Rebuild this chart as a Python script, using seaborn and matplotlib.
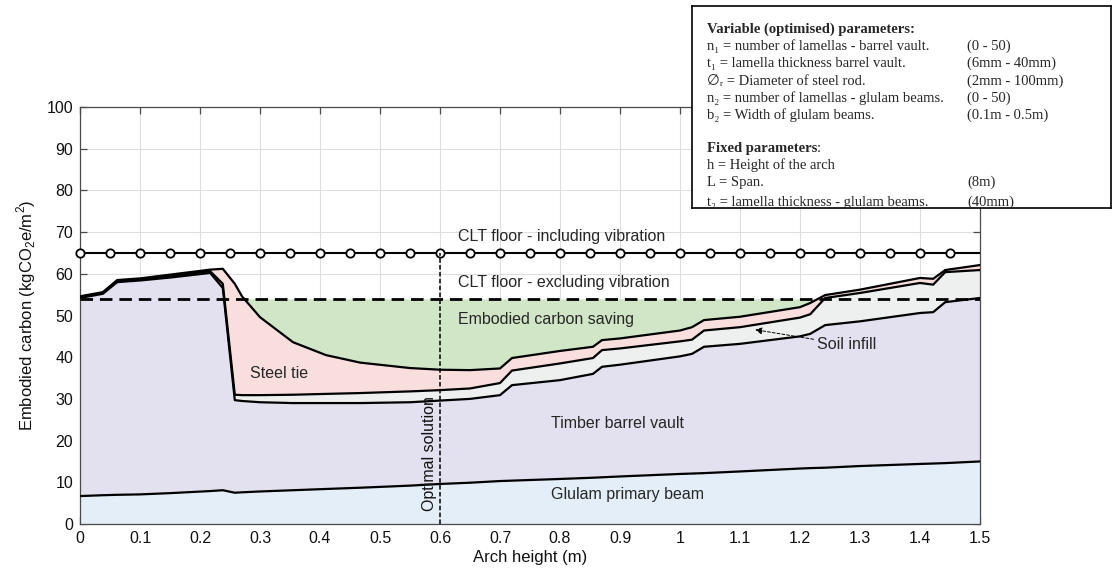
import numpy as np
import pandas as pd
import matplotlib
matplotlib.use("Agg")
import matplotlib.pyplot as plt
import seaborn as sns

# ---------------- data ----------------
arch_height = [0, 0.038, 0.062, 0.1, 0.15, 0.217, 0.238, 0.258, 0.27, 0.30,
               0.355, 0.41, 0.467, 0.55, 0.6, 0.65, 0.7, 0.72, 0.8, 0.855,
               0.87, 0.9, 1.0, 1.02, 1.04, 1.1, 1.2, 1.217, 1.242, 1.3,
               1.4, 1.422, 1.442, 1.5]
glulam_beam_top = [6.7, 6.9, 7.0, 7.1, 7.4, 7.9, 8.1, 7.5, 7.6, 7.8,
                   8.1, 8.4, 8.7, 9.2, 9.6, 9.9, 10.3, 10.4, 10.8, 11.1,
                   11.2, 11.4, 12.0, 12.1, 12.2, 12.6, 13.3, 13.4, 13.5, 13.9,
                   14.4, 14.5, 14.6, 15.0]
barrel_vault_top = [54.2, 55.2, 58.0, 58.4, 59.1, 60.2, 56.6, 29.7, 29.5, 29.2,
                    29.0, 29.0, 29.0, 29.2, 29.6, 30.0, 30.9, 33.3, 34.5, 36.0,
                    37.7, 38.2, 40.2, 40.8, 42.5, 43.2, 45.0, 45.6, 47.7, 48.6,
                    50.6, 50.8, 53.2, 54.2]
soil_infill_top = [54.5, 55.4, 58.3, 58.7, 59.5, 60.6, 57.6, 31.0, 30.9, 30.9,
                   31.0, 31.2, 31.4, 31.8, 32.1, 32.5, 33.8, 36.8, 38.5, 39.8,
                   41.7, 42.1, 43.8, 44.2, 46.4, 47.2, 49.5, 50.3, 54.2, 55.4,
                   57.8, 57.4, 60.4, 60.9]
steel_tie_top = [54.6, 55.6, 58.5, 58.9, 59.8, 61.0, 61.2, 57.6, 54.6, 49.6,
                 43.6, 40.5, 38.7, 37.4, 37.0, 36.9, 37.3, 39.8, 41.5, 42.5,
                 44.1, 44.5, 46.4, 47.2, 48.9, 49.7, 52.0, 53.0, 54.9, 56.2,
                 59.0, 58.8, 60.9, 62.1]
clt_including_vibration = 65.0
clt_excluding_vibration = 54.0
optimal_arch_height = 0.6
x_ticks = [0, 0.1, 0.2, 0.3, 0.4, 0.5, 0.6, 0.7, 0.8, 0.9, 1.0, 1.1, 1.2, 1.3, 1.4, 1.5]
x_tick_labels = ["0", "0.1", "0.2", "0.3", "0.4", "0.5", "0.6", "0.7", "0.8",
                 "0.9", "1", "1.1", "1.2", "1.3", "1.4", "1.5"]
y_ticks = [0, 10, 20, 30, 40, 50, 60, 70, 80, 90, 100]

box_rows = [
    ("Variable (optimised) parameters:", "", True),
    ("n\u2081 = number of lamellas - barrel vault.", "(0 - 50)", False),
    ("t\u2081 = lamella thickness barrel vault.", "(6mm - 40mm)", False),
    ("\u2205\u1d63 = Diameter of steel rod.", "(2mm - 100mm)", False),
    ("n\u2082 = number of lamellas - glulam beams.", "(0 - 50)", False),
    ("b\u2082 = Width of glulam beams.", "(0.1m - 0.5m)", False),
    ("Fixed parameters", "", True),
    ("h = Height of the arch", "", False),
    ("L = Span.", "(8m)", False),
    ("t\u2082 = lamella thickness - glulam beams.", "(40mm)", False),
]
box_row_baseline = [33, 50, 67, 85, 102, 119, 152, 169, 186, 206]  # pixel rows (layout)

# ---------------- figure ----------------
sns.set_theme(style="whitegrid")
plt.rcParams['font.family'] = ['Liberation Sans', 'DejaVu Sans']
plt.rcParams['mathtext.fontset'] = 'custom'
plt.rcParams['mathtext.rm'] = 'Liberation Sans'

W, H = 1113, 575
fig = plt.figure(figsize=(W / 100, H / 100), dpi=100)
fig.patch.set_facecolor('white')
ax = fig.add_axes([80 / W, 1 - 524 / H, 900 / W, 417 / H])
ax.set_facecolor('white')

df = pd.DataFrame({
    "x": arch_height,
    "glulam": glulam_beam_top,
    "vault": barrel_vault_top,
    "soil": soil_infill_top,
    "steel": steel_tie_top,
})
x = df["x"].to_numpy()

ax.fill_between(x, 0, df["glulam"], color="#e4eef8", lw=0, zorder=1)
ax.fill_between(x, df["glulam"], df["vault"], color="#e3e0ef", lw=0, zorder=1)
ax.fill_between(x, df["vault"], df["soil"], color="#eef0f0", lw=0, zorder=1)
ax.fill_between(x, df["soil"], df["steel"], color="#f9dede", lw=0, zorder=1)
ax.fill_between(x, df["steel"], clt_excluding_vibration,
                where=df["steel"] <= clt_excluding_vibration, interpolate=True,
                color="#d0e6c6", lw=0, zorder=1)

for col in ["glulam", "vault", "soil", "steel"]:
    sns.lineplot(data=df, x="x", y=col, ax=ax, color="black", lw=1.6,
                 sort=False, estimator=None, zorder=4)

# CLT floor including vibration (line with open circles)
clt_df = pd.DataFrame({"x": [0, 1.5], "y": [clt_including_vibration] * 2})
sns.lineplot(data=clt_df, x="x", y="y", ax=ax, color="black", lw=1.5, zorder=4)
marker_x = np.arange(0, 1.4501, 0.05)
ax.plot(marker_x, np.full_like(marker_x, clt_including_vibration), ls="none",
        marker="o", ms=6, mfc="white", mec="black", mew=1.3, zorder=5, clip_on=False)

# CLT floor excluding vibration (dashed)
ax.axhline(clt_excluding_vibration, color="black", lw=2.0, ls=(0, (4.5, 2.5)), zorder=5)

# optimal solution
ax.plot([optimal_arch_height, optimal_arch_height], [0, clt_including_vibration],
        color="black", lw=1.1, ls=(0, (3, 1.5)), zorder=5)
ax.text(0.583, 17, "Optimal solution", rotation=90, ha="center", va="center",
        fontsize=11.5, color="#111111", zorder=6)

# labels
fs = 11.5
ax.text(0.63, 69.0, "CLT floor - including vibration", fontsize=fs, va="center", zorder=6)
ax.text(0.63, 57.8, "CLT floor - excluding vibration", fontsize=fs, va="center", zorder=6)
ax.text(0.63, 49.0, "Embodied carbon saving", fontsize=fs, va="center", zorder=6)
ax.text(0.283, 36.2, "Steel tie", fontsize=fs, va="center", zorder=6)
ax.text(0.785, 24.2, "Timber barrel vault", fontsize=fs, va="center", zorder=6)
ax.text(0.785, 7.0, "Glulam primary beam", fontsize=fs, va="center", zorder=6)
ax.annotate("Soil infill", xy=(1.125, 46.6), xytext=(1.228, 43.0), fontsize=fs,
            va="center", ha="left", zorder=6,
            arrowprops=dict(arrowstyle="-|>", color="black", lw=0.7, ls=(0, (3, 2)),
                            mutation_scale=10, shrinkA=0, shrinkB=0))

ax.set_xlim(0, 1.5)
ax.set_ylim(0, 100)
ax.set_xticks(x_ticks)
ax.set_xticklabels(x_tick_labels)
ax.set_yticks(y_ticks)
ax.grid(True, color="#dedede", lw=0.8)
ax.set_axisbelow(True)
for sp in ax.spines.values():
    sp.set_visible(True)
    sp.set_color("#4a4a4a")
    sp.set_linewidth(0.9)
ax.tick_params(direction="in", length=5, width=0.9, color="#4a4a4a",
               top=True, right=True, bottom=True, left=True,
               labelsize=11.5, labelcolor="#111111", pad=5)
ax.set_xlabel("Arch height (m)", fontsize=12, color="#111111", labelpad=3)
ax.set_ylabel("Embodied carbon (kgCO$_\\mathregular{2}$e/m$^\\mathregular{2}$)",
              fontsize=12, color="#111111", labelpad=6)

# parameter box
bx0, bx1, by0, by1 = 692, 1111, 6, 208
bax = fig.add_axes([bx0 / W, 1 - by1 / H, (bx1 - bx0) / W, (by1 - by0) / H])
bax.set_zorder(20)
bax.set_xlim(bx0, bx1)
bax.set_ylim(by1, by0)
bax.set_facecolor("white")
bax.set_xticks([])
bax.set_yticks([])
bax.grid(False)
for sp in bax.spines.values():
    sp.set_visible(True)
    sp.set_color("black")
    sp.set_linewidth(1.2)
serif = ["Liberation Serif", "DejaVu Sans"]
for (left, right, bold), yy in zip(box_rows, box_row_baseline):
    if bold:
        t = bax.text(707, yy, left, fontsize=10.5, family=serif, fontweight="bold",
                     va="baseline", ha="left", clip_on=True)
        if left.startswith("Fixed"):
            bax.annotate(":", xycoords=t, xy=(1, 0), va="bottom", ha="left",
                         fontsize=10.5, family=serif, annotation_clip=False)
    else:
        bax.text(707, yy, left, fontsize=10.5, family=serif, va="baseline",
                 ha="left", clip_on=True)
    if right:
        bax.text(967, yy, right, fontsize=10.5, family=serif, va="baseline",
                 ha="left", clip_on=True)

fig.savefig("out.png", dpi=100, facecolor="white")
